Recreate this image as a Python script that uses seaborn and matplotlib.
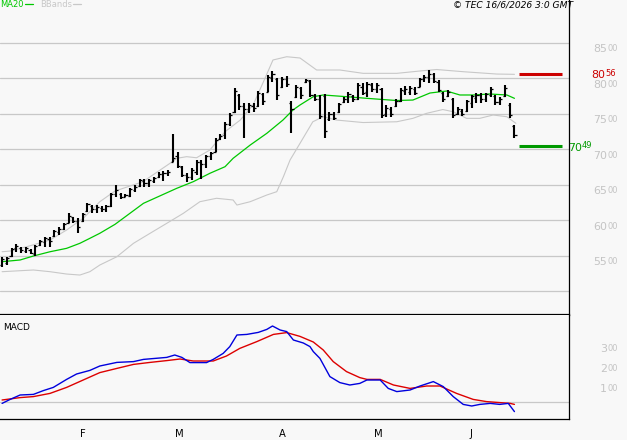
import matplotlib
matplotlib.use("Agg")
import matplotlib.pyplot as plt
from matplotlib.lines import Line2D
import seaborn as sns
import pandas as pd

# daily OHLC bars, trading-day index 0..108 (mid Jan -> 15 Jun 2026)
high = [5480, 5480, 5606, 5662, 5620, 5620, 5592, 5648, 5718, 5761,
        5761, 5859, 5901, 5958, 6099, 6042, 6028, 6099, 6239, 6211,
        6211, 6197, 6211, 6380, 6493, 6380, 6366, 6451, 6493, 6577,
        6577, 6577, 6606, 6676, 6690, 6704, 7211, 6958, 6761, 6662,
        6732, 6845, 6845, 6915, 6958, 7155, 7211, 7380, 7507, 7859,
        7775, 7648, 7648, 7648, 7817, 7789, 8042, 8099, 8000, 8014,
        8028, 7676, 7901, 7873, 7986, 7972, 7775, 7761, 7775, 7521,
        7521, 7648, 7732, 7803, 7761, 7930, 7930, 7944, 7930, 7930,
        7859, 7620, 7592, 7704, 7859, 7887, 7887, 7873, 8000, 8042,
        8113, 8070, 7972, 7803, 7831, 7718, 7592, 7563, 7690, 7761,
        7789, 7789, 7789, 7873, 7761, 7732, 7901, 7648, 7338]
low = [5340, 5366, 5479, 5549, 5535, 5535, 5521, 5493, 5634, 5620,
       5620, 5761, 5789, 5859, 5958, 5958, 5817, 5972, 6113, 6099,
       6099, 6113, 6113, 6183, 6324, 6296, 6324, 6324, 6394, 6465,
       6465, 6465, 6521, 6592, 6549, 6620, 6817, 6732, 6606, 6535,
       6563, 6634, 6577, 6732, 6845, 6958, 7127, 7141, 7324, 7507,
       7549, 7155, 7507, 7521, 7592, 7620, 7803, 7944, 7690, 7859,
       7873, 7225, 7718, 7704, 7930, 7732, 7676, 7423, 7155, 7394,
       7408, 7507, 7648, 7648, 7662, 7690, 7761, 7732, 7803, 7789,
       7437, 7451, 7451, 7592, 7662, 7761, 7761, 7761, 7873, 7944,
       7930, 7930, 7803, 7662, 7732, 7437, 7479, 7465, 7521, 7577,
       7648, 7648, 7662, 7732, 7620, 7620, 7732, 7437, 7155]
opn = [5360, 5400, 5490, 5600, 5610, 5570, 5580, 5520, 5650, 5690,
       5730, 5770, 5830, 5880, 5960, 6040, 5990, 5980, 6120, 6200,
       6160, 6170, 6150, 6200, 6370, 6370, 6330, 6340, 6420, 6480,
       6550, 6520, 6550, 6600, 6650, 6660, 6820, 6900, 6750, 6640,
       6600, 6680, 6820, 6790, 6900, 6960, 7140, 7200, 7350, 7520,
       7760, 7600, 7560, 7600, 7600, 7780, 7810, 8000, 7980, 7870,
       7990, 7650, 7730, 7860, 7950, 7960, 7760, 7700, 7750, 7420,
       7500, 7520, 7660, 7700, 7740, 7710, 7880, 7800, 7900, 7850,
       7850, 7500, 7560, 7600, 7680, 7820, 7800, 7850, 7880, 7990,
       8020, 8050, 7950, 7790, 7740, 7700, 7500, 7540, 7530, 7650,
       7720, 7760, 7700, 7760, 7740, 7660, 7740, 7620, 7320]
close = [5450, 5470, 5590, 5630, 5580, 5600, 5540, 5640, 5700, 5740,
         5700, 5840, 5880, 5940, 6060, 5990, 5900, 6080, 6220, 6160,
         6180, 6150, 6200, 6360, 6420, 6320, 6350, 6430, 6470, 6560,
         6520, 6560, 6590, 6650, 6660, 6680, 6870, 6760, 6640, 6600,
         6700, 6820, 6790, 6900, 6940, 7130, 7190, 7350, 7480, 7820,
         7600, 7560, 7620, 7580, 7790, 7680, 8010, 8060, 7760, 7990,
         7920, 7560, 7880, 7760, 7970, 7760, 7700, 7460, 7260, 7500,
         7440, 7630, 7710, 7780, 7700, 7900, 7790, 7920, 7840, 7900,
         7480, 7580, 7500, 7680, 7830, 7850, 7860, 7790, 7980, 8020,
         8060, 7960, 7830, 7700, 7800, 7480, 7560, 7490, 7670, 7740,
         7760, 7700, 7770, 7840, 7660, 7700, 7860, 7480, 7200]

# MA20
ma_idx = [0, 3.8, 6.6, 10.1, 13.6, 16.4, 18.5, 20.6, 23.8, 29.8, 36.8, 40.3, 43.8, 47, 48.7,
          52.3, 55.8, 59.2, 61.3, 62.8, 65.6, 67.7, 72.6, 76.9, 79.7, 83.2, 86.6, 90.2, 93.7,
          96.5, 99.3, 102.8, 106.4, 108]
ma_val = [5413, 5437, 5493, 5553, 5601, 5672, 5742, 5813, 5939, 6235, 6446, 6540, 6658, 6751, 6869,
          7056, 7221, 7408, 7549, 7620, 7737, 7761, 7737, 7714, 7700, 7683, 7690, 7789, 7817,
          7761, 7761, 7775, 7761, 7714]

# Bollinger bands
bbu_idx = [0, 1.7, 5.2, 10.1, 13.6, 17.1, 20.6, 23.8, 29.7, 35.4, 36.8, 38.9, 41, 43.8, 47, 50.2,
           52.9, 55.1, 57.1, 60, 62.8, 66.3, 71.2, 76.1, 83.2, 88.7, 91.6, 97.2, 104.3, 108]
bbu_val = [5553, 5563, 5624, 5718, 5859, 6024, 6258, 6408, 6540, 6799, 6869, 6892, 6877, 6986, 7244, 7408,
           7620, 7948, 8254, 8300, 8282, 8113, 8113, 8066, 8066, 8103, 8120, 8089, 8056, 8052]
bbl_idx = [0, 6.6, 10.1, 13.6, 16.4, 18.5, 20.6, 24.2, 27.7, 31.2, 34.7, 38.2, 41.7, 45.2, 48.7, 49.5,
           52.3, 55.8, 57.9, 59.3, 60.7, 62.8, 65.5, 67.7, 70.5, 76.1, 83.2, 86.6, 89.5, 92.9, 95.1,
           97.9, 100.7, 103.5, 106.4, 108.3]
bbl_val = [5272, 5296, 5272, 5239, 5225, 5272, 5366, 5483, 5672, 5813, 5953, 6094, 6258, 6306, 6282, 6211,
           6258, 6352, 6399, 6610, 6845, 7080, 7384, 7455, 7408, 7373, 7384, 7432, 7503, 7556, 7525,
           7432, 7432, 7479, 7455, 7362]

# MACD and signal
macd_idx = [0, 1.7, 3.8, 6.6, 8.7, 10.8, 13.6, 15.7, 18.5, 20.6, 24.2, 27.7, 29.8, 34.7, 36.4, 37.9,
            39.6, 43.1, 44.5, 46.6, 48, 49.5, 51.6, 54, 55.8, 57, 58.6, 60, 61.4, 63.5, 64.9, 65.6,
            67, 69.1, 71.2, 73.3, 75.4, 76.9, 79.7, 81.4, 83.2, 86, 88.1, 90.9, 93, 95.1, 97.2, 99,
            100.7, 102.9, 104.9, 106.7, 108]
macd_val = [-7, 13, 35, 38, 57, 73, 113, 140, 158, 180, 198, 202, 213, 223, 235, 223,
            197, 197, 213, 243, 277, 335, 338, 348, 363, 380, 360, 352, 310, 295, 277, 252,
            218, 127, 97, 85, 93, 110, 110, 68, 52, 60, 80, 102, 77, 27, -12, -20,
            -12, -7, -12, -7, -48]
sig_idx = [0, 3.8, 6.6, 10.1, 13.6, 17.1, 20.6, 24.2, 27.7, 31.2, 34.7, 37.5, 40.3, 44.5, 47.3, 50.1,
           53.7, 57.2, 60, 62.8, 65.6, 67.7, 69.8, 72.6, 75.4, 76.9, 79.7, 82.5, 86, 89.5, 92.3,
           95.8, 99.3, 102.1, 104.9, 107.1, 108]
sig_val = [10, 22, 27, 43, 73, 110, 147, 168, 188, 198, 207, 215, 205, 205, 230, 268,
           302, 338, 347, 328, 300, 260, 202, 152, 122, 113, 113, 85, 68, 80, 80,
           43, 13, 2, -3, -7, -12]

# resistance / support levels
levels = [8056, 7049]
level_colors = ['#cc0000', '#009900']

month_pos = [16, 36, 58, 78, 98]
month_lbl = ['F', 'M', 'A', 'M', 'J']
price_ticks = [5500, 6000, 6500, 7000, 7500, 8000, 8500]
price_grid = [5000, 5500, 6000, 6500, 7000, 7500, 8000, 8500]
macd_ticks = [100, 200, 300]

BG = '#f8f8f8'
GRID = '#c8c8c8'
LBL = '#c4c4c4'

sns.set_style("white", {"axes.facecolor": BG, "figure.facecolor": BG})
plt.rcParams['font.family'] = ['DejaVu Sans']

W, H = 627, 440
fig = plt.figure(figsize=(W / 100, H / 100), dpi=100)
ax = fig.add_axes([0, 125 / H, 569 / W, 315 / H])
ax2 = fig.add_axes([0, 21 / H, 569 / W, 104 / H], sharex=ax)

idx = list(range(len(close)))
bars = pd.DataFrame({'i': idx, 'o': opn, 'h': high, 'l': low, 'c': close})

# bands and MA
sns.lineplot(data=pd.DataFrame({'i': bbu_idx, 'v': bbu_val}), x='i', y='v', ax=ax,
             color='#c8c8c8', lw=0.8)
sns.lineplot(data=pd.DataFrame({'i': bbl_idx, 'v': bbl_val}), x='i', y='v', ax=ax,
             color='#c8c8c8', lw=0.8)
sns.lineplot(data=pd.DataFrame({'i': ma_idx, 'v': ma_val}), x='i', y='v', ax=ax,
             color='#00c800', lw=0.9)

# OHLC bars
ax.vlines(bars['i'], bars['l'], bars['h'], color='black', lw=1.5, zorder=3)
ax.hlines(bars['o'], bars['i'] - 0.45, bars['i'], color='black', lw=0.9, zorder=3)
ax.hlines(bars['c'], bars['i'], bars['i'] + 0.45, color='black', lw=0.9, zorder=3)

# levels
for lv, col in zip(levels, level_colors):
    ax.hlines(lv, 109.0, 118.0, color=col, lw=2.2, zorder=3)

ax.set_xlim(-0.44, 119.5)
ax.set_ylim(4662, 9099)
ax.set_yticks(price_grid)
ax.yaxis.grid(True, color=GRID, lw=0.9)
ax.xaxis.grid(False)
ax.tick_params(left=False, right=False, bottom=False, labelleft=False, labelbottom=False)
ax.set_xlabel('')
ax.set_ylabel('')
for s in ['top', 'left']:
    ax.spines[s].set_visible(False)
ax.spines['right'].set_color('black')
ax.spines['right'].set_linewidth(0.9)
ax.spines['bottom'].set_color('black')
ax.spines['bottom'].set_linewidth(1.6)


def axis_label(a, v, main, small, color, dx, dy_main, dy_small):
    a.annotate(main, xy=(1, v), xycoords=('axes fraction', 'data'),
               xytext=(dx * 0.72, -dy_main * 0.72), textcoords='offset points',
               ha='right', va='baseline', fontsize=7.9, color=color)
    a.annotate(small, xy=(1, v), xycoords=('axes fraction', 'data'),
               xytext=(dx * 0.72, -dy_small * 0.72), textcoords='offset points',
               ha='left', va='baseline', fontsize=6, color=color)


for v in price_ticks:
    axis_label(ax, v, str(v // 100), f'{v % 100:02d}', LBL, 38, 9.9, 8.9)
axis_label(ax, levels[0], str(levels[0] // 100), f'{levels[0] % 100:02d}', level_colors[0], 36, 4.3, 2.2)
axis_label(ax, levels[1], str(levels[1] // 100), f'{levels[1] % 100:02d}', level_colors[1], 13, 5.0, 2.6)

# MACD panel
sns.lineplot(data=pd.DataFrame({'i': sig_idx, 'v': sig_val}), x='i', y='v', ax=ax2,
             color='#dd0000', lw=1.0)
sns.lineplot(data=pd.DataFrame({'i': macd_idx, 'v': macd_val}), x='i', y='v', ax=ax2,
             color='#0000dd', lw=1.0)
ax2.set_ylim(-85, 435)
ax2.set_yticks([0])
ax2.yaxis.grid(True, color=GRID, lw=0.9)
ax2.xaxis.grid(False)
ax2.set_xticks(month_pos)
ax2.tick_params(axis='x', length=13, width=0.8, color='black', direction='out', labelbottom=False)
ax2.tick_params(axis='y', left=False, right=False, labelleft=False)
ax2.set_xlabel('')
ax2.set_ylabel('')
for s in ['top', 'left']:
    ax2.spines[s].set_visible(False)
for s in ['right', 'bottom']:
    ax2.spines[s].set_color('black')
    ax2.spines[s].set_linewidth(0.9)
for v in macd_ticks:
    axis_label(ax2, v, str(v // 100), f'{v % 100:02d}', LBL, 38, 9.7, 8.7)
for p, lbl in zip(month_pos, month_lbl):
    ax2.annotate(lbl, xy=(p, 0), xycoords=('data', 'axes fraction'),
                 xytext=(1.5, -9.5 * 0.72), textcoords='offset points',
                 ha='left', va='top', fontsize=7.2, color='black')

# texts
fig.text(3 / W, 1 - 327.5 / H, 'MACD', ha='left', va='center', fontsize=6.5, color='black')
fig.text(573 / W, 1 - 4.5 / H, '\u00a9 TEC 16/6/2026 3:0 GMT', ha='right', va='center',
         fontsize=6.6, style='italic', color='black')
fig.text(0.5 / W, 1 - 4.5 / H, 'MA20', ha='left', va='center', fontsize=6, color='#00c800')
fig.add_artist(Line2D([25 / W, 33 / W], [1 - 4.5 / H, 1 - 4.5 / H], color='#00c800', lw=0.9))
fig.text(40 / W, 1 - 4.5 / H, 'BBands', ha='left', va='center', fontsize=6, color='#c8c8c8')
fig.add_artist(Line2D([73 / W, 81 / W], [1 - 4.5 / H, 1 - 4.5 / H], color='#c8c8c8', lw=0.9))

fig.savefig('out.png', dpi=100, facecolor=BG)
